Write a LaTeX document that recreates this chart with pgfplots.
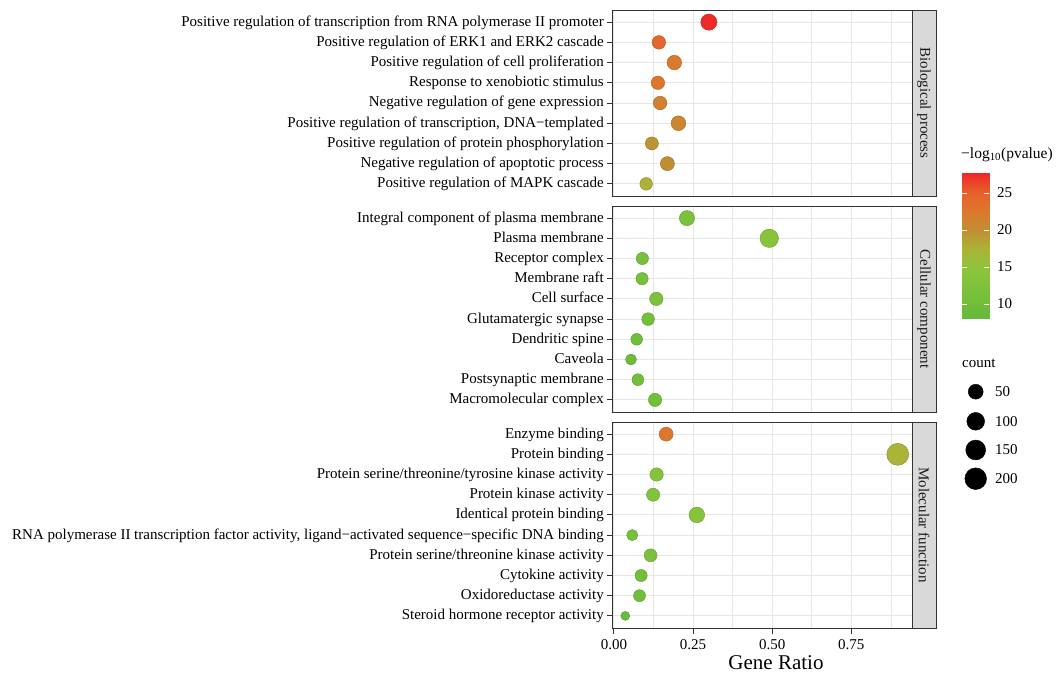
\documentclass[border=0pt]{standalone}
\usepackage{pgfplots}
\pgfplotsset{compat=1.18}
\usepackage{fontspec}
\setmainfont{Liberation Serif}
\definecolor{gridc}{RGB}{230,230,230}
\definecolor{bord}{RGB}{51,51,51}
\definecolor{stripc}{RGB}{217,217,217}
\definecolor{txt}{RGB}{26,26,26}
\newcommand{\fs}{\fontsize{15}{18}\selectfont}
\pgfplotsset{
  colormap={gr}{rgb255(81)=(100,185,60) rgb255(100)=(112,190,58) rgb255(130)=(130,195,60) rgb255(150)=(145,195,60) rgb255(175)=(172,178,55) rgb255(200)=(192,142,50) rgb255(225)=(220,120,45) rgb255(250)=(230,98,42) rgb255(277)=(238,40,40)},
  panel/.style={
    width=300pt, scale only axis,
    xmin=-0.006, xmax=0.942, ymin=0.4, y dir=reverse,
    xtick={0,0.25,0.5,0.75}, minor xtick={0.125,0.375,0.625,0.875},
    xticklabels={0.00,0.25,0.50,0.75},
    grid=both, major grid style={gridc, line width=0.9pt}, minor grid style={gridc, line width=0.5pt},
    axis line style={bord, line width=0.9pt},
    tick align=outside, ytick pos=left, xtick pos=bottom,
    major tick length=5.5pt, minor tick length=0pt,
    tick style={bord, line width=0.9pt},
    ticklabel style={font=\fs, text=black},
    yticklabel style={inner sep=0pt, xshift=-2.5pt, text height=10pt, text depth=2pt},
    xticklabel style={inner sep=0pt, yshift=-6pt},
    point meta min=8.1, point meta max=27.7,
    /pgf/number format/assume math mode=true,
  },
  dots/.style={scatter, only marks, mark=*, scatter src=explicit,
    visualization depends on={(9+13*sqrt((\thisrow{count}-8)/201))/2 \as \rad},
    scatter/@pre marker code/.append style={/tikz/mark size=\rad}},
}
\pgfplotstableread{
pos ratio count logp
1 0.300 70 27.5
2 0.142 33 24.3
3 0.191 45 22.3
4 0.139 32 22.8
5 0.146 34 21.5
6 0.204 48 20.8
7 0.120 28 19.6
8 0.169 39 20.0
9 0.102 24 17.6
}\bp
\pgfplotstableread{
pos ratio count logp
1 0.231 54 12.0
2 0.491 114 14.0
3 0.090 21 11.0
4 0.089 21 11.0
5 0.134 31 12.0
6 0.108 25 10.5
7 0.072 17 10.0
8 0.054 13 9.5
9 0.076 18 10.0
10 0.130 30 10.5
}\cc
\pgfplotstableread{
pos ratio count logp
1 0.165 38 22.5
2 0.897 209 17.2
3 0.135 31 13.5
4 0.124 29 13.0
5 0.262 61 13.5
6 0.058 14 11.0
7 0.116 27 12.0
8 0.086 20 10.5
9 0.081 19 10.0
10 0.036 8 9.0
}\mf
\pgfplotstableread{
x y count
975.7 -391.7 50
975.7 -421.3 100
975.7 -450.0 150
975.7 -478.7 200
}\sizeleg
\begin{document}
\begin{tikzpicture}[x=1pt,y=1pt]
\useasboundingbox (0,0) rectangle (1060,-677);
% Biological process
\begin{axis}[panel, at={(612pt,-10pt)}, anchor=north west, height=186pt, ymax=9.6,
  ytick={1,...,9}, xticklabels={}, major x tick style={draw=none},
  yticklabels={Positive regulation of transcription from RNA polymerase II promoter,
  Positive regulation of ERK1 and ERK2 cascade,
  Positive regulation of cell proliferation,
  Response to xenobiotic stimulus,
  Negative regulation of gene expression,
  {Positive regulation of transcription, DNA−templated},
  Positive regulation of protein phosphorylation,
  Negative regulation of apoptotic process,
  Positive regulation of MAPK cascade}]
\addplot[dots] table[x=ratio, y=pos, meta=logp]{\bp};
\end{axis}
% Cellular component
\begin{axis}[panel, at={(612pt,-206pt)}, anchor=north west, height=206pt, ymax=10.6,
  ytick={1,...,10}, xticklabels={}, major x tick style={draw=none},
  yticklabels={Integral component of plasma membrane,
  Plasma membrane, Receptor complex, Membrane raft, Cell surface,
  Glutamatergic synapse, Dendritic spine, Caveola, Postsynaptic membrane,
  Macromolecular complex}]
\addplot[dots] table[x=ratio, y=pos, meta=logp]{\cc};
\end{axis}
% Molecular function
\begin{axis}[panel, at={(612pt,-422pt)}, anchor=north west, height=206pt, ymax=10.6,
  ytick={1,...,10},
  yticklabels={Enzyme binding, Protein binding,
  Protein serine/threonine/tyrosine kinase activity,
  Protein kinase activity, Identical protein binding,
  {RNA polymerase II transcription factor activity, ligand−activated sequence−specific DNA binding},
  Protein serine/threonine kinase activity, Cytokine activity,
  Oxidoreductase activity, Steroid hormone receptor activity}]
\addplot[dots] table[x=ratio, y=pos, meta=logp]{\mf};
\end{axis}
% strips
\draw[bord, fill=stripc, line width=0.9pt] (912,-10) rectangle (936,-196);
\draw[bord, fill=stripc, line width=0.9pt] (912,-206) rectangle (936,-412);
\draw[bord, fill=stripc, line width=0.9pt] (912,-422) rectangle (936,-628);
\node[rotate=-90, text=txt, font=\fs] at (924,-103) {Biological process};
\node[rotate=-90, text=txt, font=\fs] at (924,-309) {Cellular component};
\node[rotate=-90, text=txt, font=\fs] at (924,-525) {Molecular function};
% x title
\node[font=\fontsize{21}{25}\selectfont] at (776,-663) {Gene Ratio};
% colour legend
\node[anchor=west, inner sep=0pt, font=\fontsize{15.5}{18}\selectfont] at (961,-155) {−log\textsubscript{10}(pvalue)};
\begin{axis}[at={(962pt,-318pt)}, anchor=south west, width=27pt, height=145pt, scale only axis,
  xmin=0, xmax=1, ymin=8.1, ymax=27.7, axis line style={draw=none}, xtick=\empty,
  ytick={10,15,20,25}, yticklabels={10,15,20,25}, yticklabel pos=right, ytick pos=both,
  tick align=inside, major tick length=5.4pt, ytick style={white, line width=0.8pt},
  axis on top, point meta min=8.1, point meta max=27.7,
  yticklabel style={font=\fs, inner sep=0pt, xshift=8pt}]
\addplot[patch, patch type=rectangle, shader=interp, point meta=y] coordinates {(0,8.1) (1,8.1) (1,27.7) (0,27.7)};
\end{axis}
% size legend
\node[anchor=west, inner sep=0pt, font=\fs] at (962,-363) {count};
\begin{axis}[at={(962pt,-500pt)}, anchor=south west, width=98pt, height=140pt, scale only axis,
  xmin=962, xmax=1060, ymin=-500, ymax=-360, hide axis, clip=false]
\addplot[scatter, only marks, mark=*, scatter/use mapped color={draw=black, fill=black},
  visualization depends on={(9+13*sqrt((\thisrow{count}-8)/201))/2 \as \rad},
  scatter/@pre marker code/.append style={/tikz/mark size=\rad}] table[x=x, y=y]{\sizeleg};
\end{axis}
\node[anchor=west, inner sep=0pt, font=\fs] at (995,-391.7) {50};
\node[anchor=west, inner sep=0pt, font=\fs] at (995,-421.3) {100};
\node[anchor=west, inner sep=0pt, font=\fs] at (995,-450.0) {150};
\node[anchor=west, inner sep=0pt, font=\fs] at (995,-478.7) {200};
\end{tikzpicture}
\end{document}
